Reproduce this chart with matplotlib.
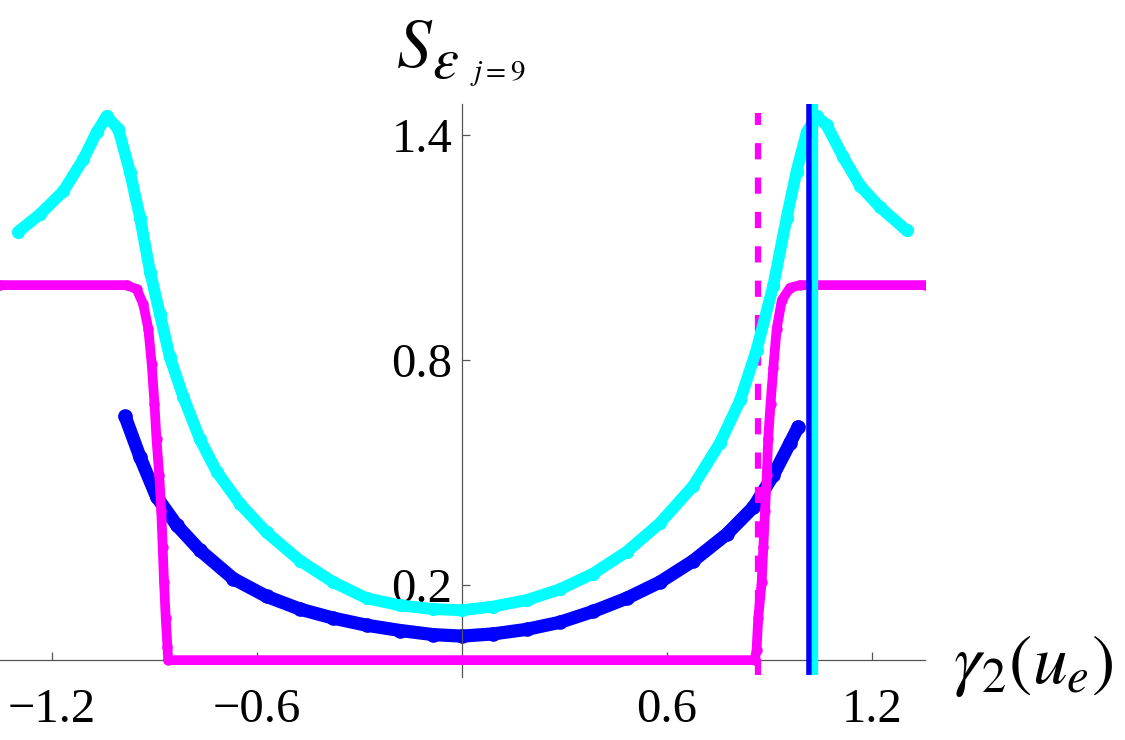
"""
Courbes S_eps (j=9) en fonction de gamma_2(u_e) - style Mathematica
"""

import matplotlib
matplotlib.use("Agg")
import matplotlib.pyplot as plt

# Courbe cyan (pics vers +-1.04)
cyan_x = [-1.298, -1.235, -1.167, -1.108, -1.069, -1.040, -1.006, -0.972, -0.942,
          -0.913, -0.884, -0.855, -0.816, -0.767, -0.718, -0.650, -0.572, -0.474,
          -0.377, -0.279, -0.181, -0.084, 0.0, 0.092, 0.189, 0.287, 0.384, 0.482,
          0.579, 0.677, 0.755, 0.814, 0.862, 0.911, 0.950, 0.979, 1.009, 1.038,
          1.067, 1.116, 1.165, 1.223, 1.301]
cyan_y = [1.143, 1.189, 1.250, 1.336, 1.408, 1.450, 1.417, 1.303, 1.179,
          1.036, 0.922, 0.808, 0.703, 0.589, 0.503, 0.417, 0.341, 0.265,
          0.208, 0.165, 0.146, 0.136, 0.133, 0.143, 0.160, 0.189, 0.231, 0.289,
          0.365, 0.465, 0.579, 0.693, 0.827, 0.998, 1.179, 1.303, 1.408, 1.450,
          1.427, 1.341, 1.265, 1.208, 1.146]

# Courbe bleue
blue_x = [-0.986, -0.942, -0.894, -0.835, -0.767, -0.669, -0.572, -0.474, -0.377,
          -0.279, -0.181, -0.084, 0.0, 0.092, 0.189, 0.287, 0.384, 0.482, 0.579,
          0.677, 0.775, 0.853, 0.911, 0.960, 0.984]
blue_y = [0.650, 0.541, 0.436, 0.360, 0.293, 0.217, 0.170, 0.136, 0.112,
          0.093, 0.079, 0.068, 0.064, 0.070, 0.082, 0.101, 0.130, 0.165, 0.208,
          0.265, 0.336, 0.408, 0.493, 0.579, 0.622]

# Courbe magenta (marche)
mag_x = [-1.352, -0.981, -0.952, -0.933, -0.918, -0.908, -0.900, -0.894, -0.886,
         -0.880, -0.876, -0.872, -0.867, -0.862, -0.860, 0.857, 0.862, 0.867,
         0.877, 0.882, 0.887, 0.892, 0.896, 0.903, 0.911, 0.921, 0.936, 0.960,
         0.989, 1.355]
mag_y = [1.0, 1.0, 0.989, 0.950, 0.884, 0.789, 0.684, 0.589, 0.493,
         0.398, 0.303, 0.208, 0.112, 0.036, 0.0, 0.0, 0.027, 0.112,
         0.208, 0.303, 0.398, 0.493, 0.589, 0.684, 0.779, 0.884, 0.960, 0.993,
         1.0, 1.0]

# Droites verticales
vline_dashed_x = 0.867
vline_blue_x = 1.016
vline_cyan_x = 1.032

x_ticks = [-1.2, -0.6, 0.6, 1.2]
x_ticklabels = ["\u22121.2", "\u22120.6", "0.6", "1.2"]
y_ticks = [0.2, 0.8, 1.4]
y_ticklabels = ["0.2", "0.8", "1.4"]

CYAN = "#00ffff"
BLUE = "#0000ff"
MAGENTA = "#ff00ff"
W, H = 1125, 740

plt.rcParams["font.family"] = ["Liberation Serif", "DejaVu Serif"]
plt.rcParams["mathtext.fontset"] = "stix"

fig = plt.figure(figsize=(W / 100, H / 100), dpi=100)
ax = fig.add_axes([0, (H - 677) / H, 925 / W, (677 - 104) / H])
ax.set_xlim(-1.352, 1.355)
ax.set_ylim(-0.045, 1.483)

# axes qui se croisent a l'origine
for side in ["top", "right"]:
    ax.spines[side].set_visible(False)
for side in ["left", "bottom"]:
    ax.spines[side].set_position(("data", 0))
    ax.spines[side].set_color("#555555")
    ax.spines[side].set_linewidth(0.9)

ax.set_xticks(x_ticks)
ax.set_xticklabels(x_ticklabels)
ax.set_yticks(y_ticks)
ax.set_yticklabels(y_ticklabels)
ax.tick_params(axis="both", direction="in", length=6, width=0.9, color="#555555",
               labelsize=35)
ax.tick_params(axis="x", pad=20)
ax.tick_params(axis="y", pad=7)

ax.plot(blue_x, blue_y, "-o", color=BLUE, lw=9.5, ms=9.5, zorder=2,
        solid_capstyle="round", solid_joinstyle="round")
ax.plot(mag_x, mag_y, "-o", color=MAGENTA, lw=7, ms=6.5, zorder=3,
        solid_capstyle="round", solid_joinstyle="round")
ax.vlines(vline_dashed_x, -0.04, 1.459, color=MAGENTA, lw=4.5,
          linestyles=(0, (2.6, 2.9)), zorder=3.5)
ax.plot(cyan_x, cyan_y, "-o", color=CYAN, lw=8.5, ms=8.5, zorder=4,
        solid_capstyle="round", solid_joinstyle="round")
ax.vlines(vline_blue_x, -0.04, 1.483, color=BLUE, lw=4.0, zorder=5)
ax.vlines(vline_cyan_x, -0.04, 1.483, color=CYAN, lw=4.5, zorder=5)

# etiquettes des axes
fig.text(396 / W, 1 - 67 / H, r"$S$", fontsize=50, va="baseline")
fig.text(432 / W, 1 - 78 / H, r"$\varepsilon$", fontsize=42, va="baseline")
fig.text(470 / W, 1 - 80 / H, r"$j=9$", fontsize=21, va="baseline")
fig.text(953 / W, 1 - 683 / H, r"$\gamma_2(u_e)$", fontsize=50, va="baseline")

fig.savefig("out.png", dpi=100)
